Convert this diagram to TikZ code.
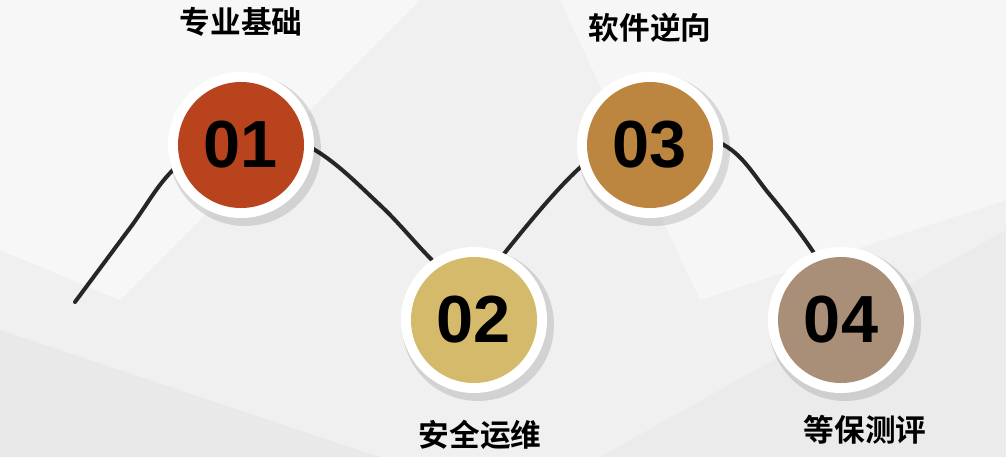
\documentclass[tikz,border=0pt]{standalone}
\usepackage{fontspec}
\newfontfamily\cjk{Noto Sans CJK SC}[BoldFont={* Bold}]
\newfontfamily\numf{Liberation Sans}
\definecolor{cA}{HTML}{B8431C}
\definecolor{cB}{HTML}{D4BA6A}
\definecolor{cC}{HTML}{BC8640}
\definecolor{cD}{HTML}{A98E78}
\begin{document}
\begin{tikzpicture}[x=0.75pt,y=-0.75pt,
  ring/.style={circle,fill=white,minimum size=146*0.75pt,inner sep=0pt},
  disc/.style={circle,minimum size=126*0.75pt,inner sep=0pt,font=\numf\bfseries\fontsize{50}{50}\selectfont,text=black},
  lbl/.style={font=\cjk\bfseries\fontsize{23}{26}\selectfont,text=black}]
\useasboundingbox (0,0) rectangle (1006,457);
\fill[gray!12] (0,0) rectangle (1006,457);
\fill[white,opacity=0.5] (0,0) -- (420,0) -- (120,300) -- (0,250) -- cycle;
\fill[white,opacity=0.4] (560,0) -- (1006,0) -- (1006,200) -- (700,300) -- cycle;
\fill[gray!25,opacity=0.4] (0,330) -- (380,457) -- (0,457) -- cycle;
\fill[gray!20,opacity=0.4] (600,457) -- (1006,230) -- (1006,457) -- cycle;
\draw[line width=3pt,black!85,line cap=round] plot[smooth,tension=0.6] coordinates {(75,302) (130,228) (175,168) (241,122) (315,150) (380,205) (430,258) (474,300) (507,250) (583,165) (650,128) (724,145) (770,195) (812,250) (841,300)};
\foreach \n/\x/\y/\c/\t in {a/241/145/cA/01, b/474/320/cB/02, c/650/145/cC/03, d/841/320/cD/04}{
  \fill[black,opacity=0.12] (\x+4,\y+5) circle (76*0.75pt);
  \node[ring] (r\n) at (\x,\y) {};
  \node[disc,fill=\c] (\n) at (\x,\y) {\t};
}
\node[lbl] (la) at (241,22) {专业基础};
\node[lbl] (lc) at (650,28) {软件逆向};
\node[lbl] (lb) at (480,435) {安全运维};
\node[lbl] (ld) at (865,430) {等保测评};
\end{tikzpicture}
\end{document}
